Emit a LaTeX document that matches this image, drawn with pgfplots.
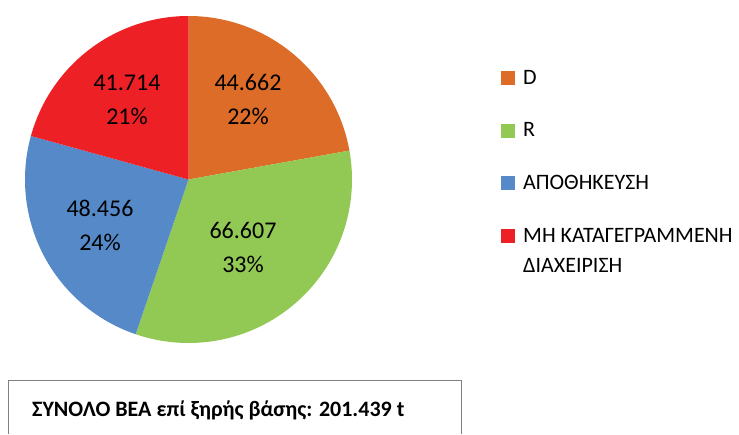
\documentclass[border=0pt]{standalone}
\usepackage{pgfplots}
\pgfplotsset{compat=1.18}
\usepackage{pgfplotstable}
\usepackage{fontspec}
\setmainfont{Carlito}
\definecolor{cD}{RGB}{220,108,40}
\definecolor{cR}{RGB}{146,200,84}
\definecolor{cA}{RGB}{85,137,200}
\definecolor{cM}{RGB}{237,32,38}
\definecolor{boxgray}{RGB}{128,128,128}
% values (t)
\pgfmathsetmacro{\vD}{44.662}
\pgfmathsetmacro{\vR}{66.607}
\pgfmathsetmacro{\vA}{48.456}
\pgfmathsetmacro{\vM}{41.714}
\pgfmathsetmacro{\vT}{\vD+\vR+\vA+\vM}
\pgfmathsetmacro{\aA}{90}
\pgfmathsetmacro{\aB}{\aA-(\vD/\vT)*360}
\pgfmathsetmacro{\aC}{\aB-(\vR/\vT)*360}
\pgfmathsetmacro{\aD}{\aC-(\vA/\vT)*360}
\pgfmathsetmacro{\aE}{\aD-(\vM/\vT)*360}
\newcommand{\cx}{188.5}
\newcommand{\cy}{-179.5}
\newcommand{\rr}{163.5}
\pgfplotsset{
  sqlegend/.style={legend image code/.code={\fill[##1] (0pt,-7pt) rectangle (14pt,7pt); \path (22pt,0pt);}},
  sqlegendup/.style={legend image code/.code={\fill[##1] (0pt,8pt) rectangle (14pt,22pt); \path (22pt,0pt);}},
}
\begin{document}
\begin{tikzpicture}
\begin{axis}[
  width=739pt, height=434pt, scale only axis,
  xmin=0, xmax=739, ymin=-434, ymax=0,
  hide axis, clip=false,
  sqlegend,
  legend style={at={(axis cs:501,-70)}, anchor=north west, draw=none, fill=none,
    inner sep=0pt, row sep=37pt, font=\fontsize{22}{30}\selectfont,
    nodes={inner sep=0pt, align=left}},
  legend cell align=left,
]
\addplot[fill=cD, draw=none, variable=\t, samples at={0,1,...,101}]
 ({\cx+\rr*(\t<=100)*cos(\aA+(\aB-\aA)*min(\t,100)/100)},
  {\cy+\rr*(\t<=100)*sin(\aA+(\aB-\aA)*min(\t,100)/100)});
\addlegendentry{D}
\addplot[fill=cR, draw=none, variable=\t, samples at={0,1,...,101}]
 ({\cx+\rr*(\t<=100)*cos(\aB+(\aC-\aB)*min(\t,100)/100)},
  {\cy+\rr*(\t<=100)*sin(\aB+(\aC-\aB)*min(\t,100)/100)});
\addlegendentry{R}
\addplot[fill=cA, draw=none, variable=\t, samples at={0,1,...,101}]
 ({\cx+\rr*(\t<=100)*cos(\aC+(\aD-\aC)*min(\t,100)/100)},
  {\cy+\rr*(\t<=100)*sin(\aC+(\aD-\aC)*min(\t,100)/100)});
\addlegendentry{ΑΠΟΘΗΚΕΥΣΗ}
\addplot[fill=cM, draw=none, variable=\t, samples at={0,1,...,101}, sqlegendup]
 ({\cx+\rr*(\t<=100)*cos(\aD+(\aE-\aD)*min(\t,100)/100)},
  {\cy+\rr*(\t<=100)*sin(\aD+(\aE-\aD)*min(\t,100)/100)});
\addlegendentry{ΜΗ ΚΑΤΑΓΕΓΡΑΜΜΕΝΗ\\ΔΙΑΧΕΙΡΙΣΗ}
% slice labels
\node[align=center, font=\fontsize{24}{34}\selectfont] at (axis cs:248,-100) {44.662\\22\%};
\node[align=center, font=\fontsize{24}{34}\selectfont] at (axis cs:243,-247.5) {66.607\\33\%};
\node[align=center, font=\fontsize{24}{34}\selectfont] at (axis cs:100,-225.5) {48.456\\24\%};
\node[align=center, font=\fontsize{24}{34}\selectfont] at (axis cs:127,-100) {41.714\\21\%};
% total box
\draw[boxgray, line width=1pt] (axis cs:8,-434) -- (axis cs:8,-381) -- (axis cs:461,-381) -- (axis cs:461,-434);
\node[anchor=base west, inner sep=0pt, font=\fontsize{22}{26}\selectfont\bfseries] at (axis cs:32,-417) {ΣΥΝΟΛΟ ΒΕΑ επί ξηρής βάσης: 201.439 t};
\end{axis}
\pgfresetboundingbox
\path[use as bounding box] (current axis.south west) rectangle (current axis.north east);
\end{tikzpicture}
\end{document}
